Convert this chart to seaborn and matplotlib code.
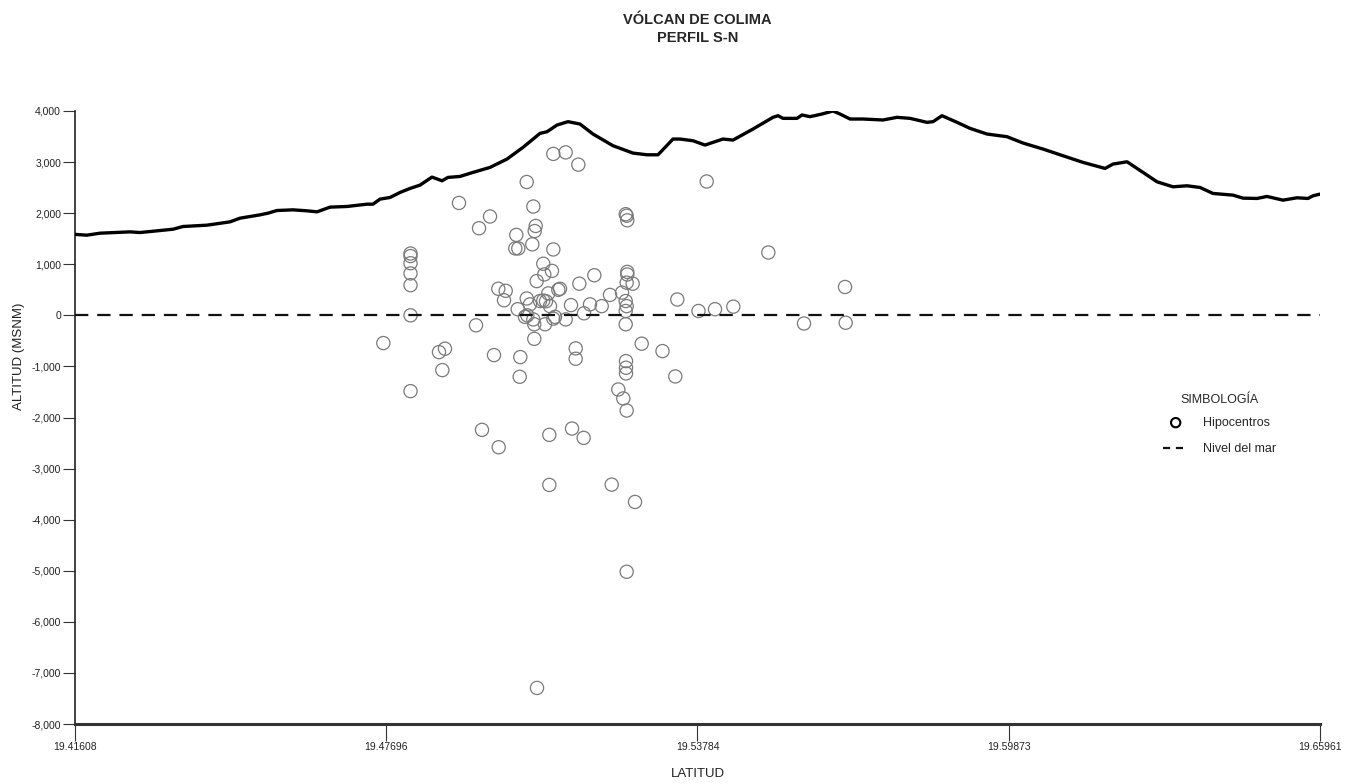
import numpy as np
import pandas as pd
import matplotlib
matplotlib.use("Agg")
import matplotlib.pyplot as plt
import seaborn as sns

# Perfil topografico S-N (latitud, altitud en msnm)
perfil_lat = [19.41608, 19.41837, 19.42097, 19.42684, 19.42879, 19.43271, 19.43525, 19.43721,
              19.44190, 19.44640, 19.44836, 19.45227, 19.45383, 19.45559, 19.45872, 19.46146,
              19.46342, 19.46596, 19.46928, 19.47320, 19.47437, 19.47574, 19.47770, 19.47965,
              19.48161, 19.48356, 19.48591, 19.48787, 19.48904, 19.49139, 19.49393, 19.49726,
              19.50058, 19.50371, 19.50704, 19.50841, 19.51036, 19.51251, 19.51486, 19.51740,
              19.52132, 19.52523, 19.52797, 19.53012, 19.53305, 19.53442, 19.53696, 19.53931,
              19.54088, 19.54283, 19.54479, 19.54870, 19.55261, 19.55359, 19.55457, 19.55731,
              19.55829, 19.55985, 19.56220, 19.56435, 19.56572, 19.56768, 19.57022, 19.57413,
              19.57687, 19.57941, 19.58274, 19.58391, 19.58567, 19.58861, 19.59115, 19.59447,
              19.59839, 19.60152, 19.60543, 19.60934, 19.61325, 19.61756, 19.61912, 19.62186,
              19.62499, 19.62773, 19.63086, 19.63359, 19.63614, 19.63868, 19.64259, 19.64455,
              19.64729, 19.64924, 19.65237, 19.65511, 19.65726, 19.65824, 19.65961]
perfil_alt = [1585, 1569, 1608, 1634, 1621, 1660, 1686, 1739,
              1765, 1830, 1902, 1967, 2000, 2052, 2065, 2046,
              2026, 2118, 2131, 2176, 2176, 2275, 2307, 2405,
              2484, 2549, 2706, 2634, 2700, 2719, 2798, 2896,
              3059, 3288, 3562, 3594, 3725, 3791, 3745, 3549,
              3320, 3176, 3143, 3143, 3451, 3451, 3418, 3333,
              3386, 3451, 3431, 3647, 3876, 3908, 3856, 3856,
              3922, 3889, 3941, 4000, 3941, 3843, 3843, 3824,
              3876, 3856, 3778, 3791, 3908, 3778, 3660, 3549,
              3497, 3373, 3255, 3124, 2994, 2876, 2961, 3006,
              2798, 2614, 2516, 2536, 2503, 2386, 2353, 2294,
              2288, 2327, 2255, 2301, 2288, 2340, 2373]

# Hipocentros (latitud, altitud en msnm)
hipo_lat = [19.50964, 19.51206, 19.51453, 19.50444, 19.49119, 19.49726, 19.49511, 19.50573,
            19.50620, 19.50600, 19.50240, 19.50221, 19.50279, 19.50553, 19.50964, 19.52380,
            19.52399, 19.52411, 19.48171, 19.48171, 19.48171, 19.48171, 19.48171, 19.48171,
            19.50768, 19.50938, 19.50788, 19.50639, 19.51766, 19.51473, 19.51095, 19.51062,
            19.49888, 19.50033, 19.50000, 19.52411, 19.52411, 19.52399, 19.52517, 19.52308,
            19.52073, 19.50866, 19.50444, 19.50704, 19.50768, 19.50821, 19.50508, 19.50899,
            19.51310, 19.51682, 19.51911, 19.50268, 19.52380, 19.52399, 19.52380, 19.51564,
            19.50410, 19.50455, 19.50573, 19.50592, 19.50802, 19.50997, 19.50964, 19.51206,
            19.52380, 19.49452, 19.50592, 19.53389, 19.53804, 19.54127, 19.54485, 19.53965,
            19.55170, 19.56670, 19.55868, 19.56683,
            19.47639, 19.48728, 19.48845, 19.48793, 19.48171, 19.49804, 19.50318, 19.50307,
            19.51402, 19.51402, 19.52386, 19.52386, 19.52386, 19.52235, 19.52333, 19.52399,
            19.52693, 19.53100, 19.53350, 19.49569, 19.49896, 19.50886, 19.51330, 19.51558,
            19.50886, 19.52106, 19.52562, 19.52399, 19.50645]
hipo_alt = [3160, 3190, 2950, 2610, 2200, 1935, 1705, 2130,
            1750, 1650, 1575, 1310, 1310, 1390, 1290, 1980,
            1950, 1860, 1210, 1160, 1020, 820, 590, 0,
            1010, 870, 800, 670, 785, 620, 520, 500,
            520, 480, 295, 850, 800, 640, 620, 445,
            400, 430, 330, 280, 290, 275, 215, 180,
            200, 215, 180, 120, 280, 180, 85, 40,
            -30, 0, -80, -175, -175, -30, -65, -80,
            -175, -195, -460, 310, 85, 120, 170, 2620,
            1230, 555, -160, -145,
            -543, -720, -653, -1072, -1484, -778, -817, -1203,
            -647, -850, -896, -1026, -1137, -1451, -1627, -1863,
            -555, -700, -1196, -2242, -2582, -2340, -2216, -2399,
            -3320, -3314, -3653, -5020, -7294]

nivel_mar = 0
x_ticks = [19.41608, 19.47696, 19.53784, 19.59873, 19.65961]
y_ticks = list(range(-8000, 4001, 1000))

perfil = pd.DataFrame({"lat": perfil_lat, "alt": perfil_alt})
hipo = pd.DataFrame({"lat": hipo_lat, "alt": hipo_alt})

sns.set_theme(style="white")
plt.rcParams['font.family'] = ['Liberation Sans', 'DejaVu Sans']

fig = plt.figure(figsize=(13.6, 7.84), dpi=100)
ax = fig.add_axes([75/1360, 1 - 724/784, 1245/1360, 613/784])

sns.scatterplot(data=hipo, x="lat", y="alt", ax=ax, marker="o", s=90,
                facecolors="none", edgecolor="#7a7a7a", linewidth=0.9,
                label="Hipocentros", zorder=2)
ax.axhline(nivel_mar, color="#111111", lw=1.6, ls=(0, (6, 4)), zorder=3,
           label="Nivel del mar")
sns.lineplot(data=perfil, x="lat", y="alt", ax=ax, color="black", lw=2.4,
             zorder=4, legend=False)

ax.set_xlim(x_ticks[0], x_ticks[-1])
ax.set_ylim(-8000, 4000)
ax.set_xticks(x_ticks)
ax.set_xticklabels([f"{t:.5f}" for t in x_ticks])
ax.set_yticks(y_ticks)
ax.set_yticklabels([f"{t:,}" for t in y_ticks])

for side in ["top", "right"]:
    ax.spines[side].set_visible(False)
ax.spines["left"].set_color("#222222")
ax.spines["left"].set_linewidth(1.2)
ax.spines["bottom"].set_color("#333333")
ax.spines["bottom"].set_linewidth(2.2)
ax.tick_params(axis="x", direction="out", length=12, width=0.8, labelsize=7.5,
               colors="#333333", bottom=True, pad=1)
ax.tick_params(axis="y", direction="out", length=9, width=0.8, labelsize=7.5,
               colors="#333333", left=True, pad=1)
for lab in ax.get_xticklabels() + ax.get_yticklabels():
    lab.set_color("#222222")

ax.set_xlabel("LATITUD", fontsize=9.5, color="#222222")
ax.set_ylabel("ALTITUD (MSNM)", fontsize=9.5, color="#222222")
ax.xaxis.set_label_coords(0.5, -0.072)
ax.yaxis.set_label_coords(-0.040, 0.6)

fig.text(0.513, 1 - 20/784, "VÓLCAN DE COLIMA", ha="center", va="center",
         fontsize=10.5, fontweight="bold")
fig.text(0.513, 1 - 38/784, "PERFIL S-N", ha="center", va="center",
         fontsize=10.5, fontweight="bold")

leg = ax.legend(title="SIMBOLOGÍA", loc="upper left", bbox_to_anchor=(0.865, 0.557),
                frameon=False, fontsize=9, title_fontsize=9, handlelength=2.0,
                handletextpad=1.2, labelspacing=1.15)
leg.legend_handles[0].set_edgecolor("black")
leg.legend_handles[0].set_linewidth(1.5)
leg.legend_handles[0].set_sizes([45])
leg.legend_handles[1].set_linestyle((0, (3.2, 2.6)))
leg._legend_box.sep = 8

fig.savefig("out.png", dpi=100)
